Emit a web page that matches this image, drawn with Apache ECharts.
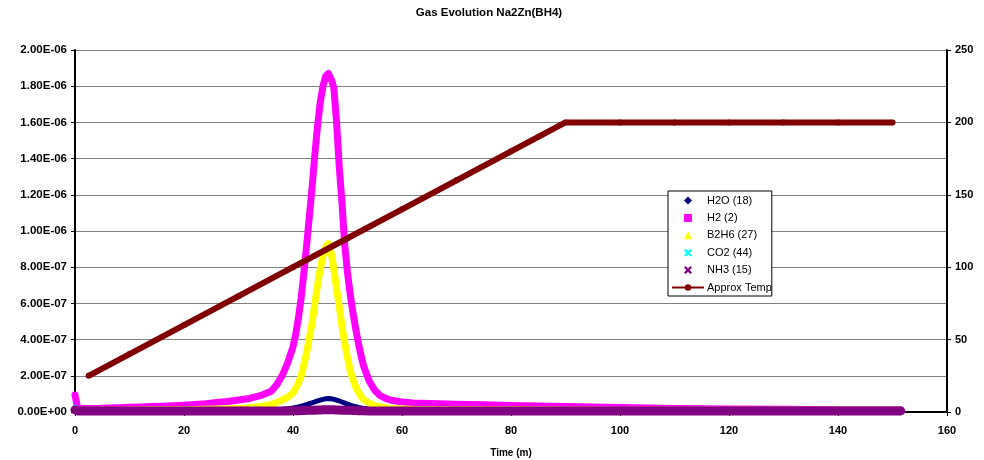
<!DOCTYPE html>
<html>
<head>
<meta charset="utf-8">
<script src="https://cdn.jsdelivr.net/npm/echarts@6/dist/echarts.min.js"></script>
<style>html,body{margin:0;padding:0;background:#fff}#c{width:984px;height:460px}</style>
</head>
<body>
<div id="c"></div>
<script>
// time (minutes) for gas signals
const gasTime = [0,0.5,2,4,6,8,10,12,14,16,18,20,22,24,26,28,30,32,34,36,37,38,39,40,40.5,41,41.5,42,42.5,43,43.5,44,44.5,45,45.5,46,46.5,47,47.5,48,48.5,49,49.5,50,50.5,51,51.5,52,52.5,53,54,55,56,57,58,60,62,65,70,75,80,90,100,110,120,130,140,151.5];
// gas signals in units of 1E-06
const h2o = [0.02,0.012,0.012,0.012,0.012,0.012,0.012,0.012,0.012,0.012,0.012,0.012,0.012,0.012,0.012,0.012,0.012,0.012,0.012,0.012,0.013,0.015,0.018,0.022,0.025,0.028,0.032,0.036,0.041,0.046,0.051,0.056,0.061,0.066,0.07,0.073,0.074,0.073,0.07,0.066,0.061,0.055,0.049,0.043,0.038,0.033,0.029,0.025,0.022,0.02,0.017,0.015,0.014,0.013,0.013,0.012,0.012,0.012,0.012,0.012,0.012,0.012,0.012,0.012,0.012,0.012,0.012,0.012];
const h2 = [0.094,0.02,0.02,0.02,0.022,0.024,0.026,0.028,0.03,0.032,0.035,0.038,0.042,0.046,0.052,0.058,0.066,0.075,0.09,0.115,0.15,0.2,0.27,0.36,0.43,0.52,0.63,0.77,0.92,1.08,1.24,1.42,1.58,1.71,1.80,1.855,1.87,1.84,1.79,1.60,1.35,1.15,0.92,0.77,0.65,0.55,0.46,0.38,0.31,0.25,0.17,0.12,0.09,0.075,0.065,0.055,0.05,0.047,0.043,0.04,0.036,0.03,0.025,0.02,0.017,0.015,0.013,0.012];
const b2h6 = [0.01,0.01,0.01,0.01,0.01,0.01,0.011,0.011,0.012,0.012,0.013,0.013,0.014,0.015,0.016,0.018,0.02,0.023,0.03,0.042,0.052,0.065,0.082,0.105,0.13,0.16,0.2,0.26,0.33,0.41,0.49,0.6,0.7,0.79,0.86,0.91,0.93,0.88,0.79,0.68,0.58,0.47,0.38,0.3,0.23,0.18,0.14,0.11,0.085,0.068,0.048,0.035,0.028,0.024,0.02,0.017,0.015,0.014,0.013,0.012,0.012,0.011,0.01,0.01,0.01,0.01,0.01,0.01];
const co2 = [0.03,0.008,0.004,0.004,0.004,0.004,0.004,0.004,0.004,0.004,0.004,0.004,0.004,0.004,0.004,0.004,0.004,0.004,0.003,0.003,0.003,0.003,0.002,0.002,0.001,0,0,0,0,0,0,0,0,0,0,0,0,0,0,0,0,0,0,0,0,0,0,0,0.001,0.001,0.002,0.002,0.003,0.003,0.003,0.003,0.003,0.003,0.003,0.003,0.003,0.003,0.003,0.003,0.003,0.003,0.003,0.003];
const nh3 = [0.012,0.006,0.006,0.006,0.006,0.006,0.006,0.006,0.006,0.006,0.006,0.006,0.006,0.006,0.006,0.006,0.006,0.006,0.006,0.006,0.006,0.006,0.006,0.007,0.007,0.007,0.008,0.008,0.009,0.009,0.01,0.01,0.011,0.011,0.012,0.012,0.012,0.012,0.012,0.011,0.011,0.01,0.01,0.009,0.009,0.008,0.008,0.007,0.007,0.007,0.006,0.006,0.006,0.006,0.006,0.006,0.006,0.006,0.006,0.006,0.006,0.006,0.006,0.006,0.006,0.006,0.006,0.006];
// approximate temperature
const tempTime = [2.5,10,20,30,40,50,60,70,80,90,100,110,120,130,140,150];
const tempVal = [25,40,60,80,100,120,140,160,180,200,200,200,200,200,200,200];
// axis ticks
const leftTicks = ['0.00E+00','2.00E-07','4.00E-07','6.00E-07','8.00E-07','1.00E-06','1.20E-06','1.40E-06','1.60E-06','1.80E-06','2.00E-06'];

const FONT = '"Liberation Sans", Arial, sans-serif';
const xMark = 'path://M0,2L2,0L5,3L8,0L10,2L7,5L10,8L8,10L5,7L2,10L0,8L3,5Z';
const diamondMark = 'path://M5,0L10,5L5,10L0,5Z';
const squareMark = 'path://M0,0L10,0L10,10L0,10Z';
const triMark = 'path://M5,0L10,10L0,10Z';

function pairs(t, v){ return t.map((x,i)=>[x, v[i]]); }
function gas(name, vals, color, width){
  return {name:name, type:'line', data:pairs(gasTime, vals), showSymbol:false, symbol:'circle',
    itemStyle:{color:color}, lineStyle:{color:color, width:width, cap:'round', join:'round'}, z:2};
}

const chart = echarts.init(document.getElementById('c'), null, {renderer:'canvas'});
chart.setOption({
  animation:false,
  backgroundColor:'#fff',
  title:{text:'Gas Evolution Na2Zn(BH4)', left:484, textAlign:'center', top:2,
    textStyle:{fontFamily:FONT, fontSize:11.5, fontWeight:'bold', color:'#000'}},
  grid:{left:75, right:37, top:50, bottom:48, outerBoundsMode:'none', containLabel:false},
  legend:{orient:'vertical', left:668, top:191, itemWidth:32, itemHeight:8, itemGap:6.4,
    symbolKeepAspect:true,
    padding:[4,0,3,3], borderColor:'#000', borderWidth:1, backgroundColor:'#fff',
    textStyle:{fontFamily:FONT, fontSize:11, color:'#000', padding:[0,0,0,-2]},
    data:[
      {name:'H2O (18)', icon:diamondMark},
      {name:'H2 (2)', icon:squareMark},
      {name:'B2H6 (27)', icon:triMark},
      {name:'CO2 (44)', icon:xMark},
      {name:'NH3 (15)', icon:xMark},
      {name:'Approx Temp', lineStyle:{width:2}}
    ]},
  xAxis:{type:'value', min:0, max:160, interval:20,
    name:'Time (m)', nameLocation:'middle', nameGap:36,
    nameTextStyle:{fontFamily:FONT, fontSize:10, fontWeight:'bold', color:'#000'},
    axisLine:{lineStyle:{color:'#000', width:2}},
    axisTick:{show:true, length:4, lineStyle:{color:'#000', width:1}},
    axisLabel:{fontFamily:FONT, fontSize:11, fontWeight:'bold', color:'#000', margin:13},
    splitLine:{show:false}},
  yAxis:[
    {type:'value', min:0, max:2, interval:0.2,
      axisLine:{show:true, lineStyle:{color:'#000', width:2}},
      axisTick:{show:true, length:4, lineStyle:{color:'#000', width:1}},
      axisLabel:{fontFamily:FONT, fontSize:11.5, fontWeight:'bold', color:'#000', margin:8,
        formatter:(v)=>leftTicks[Math.round(v/0.2)]},
      splitLine:{show:true, lineStyle:{color:'#808080', width:1}}},
    {type:'value', min:0, max:250, interval:50, position:'right',
      axisLine:{show:true, lineStyle:{color:'#000', width:2}},
      axisTick:{show:true, length:4, lineStyle:{color:'#000', width:1}},
      axisLabel:{fontFamily:FONT, fontSize:11, fontWeight:'bold', color:'#000', margin:8},
      splitLine:{show:false}}
  ],
  series:[
    gas('H2O (18)', h2o, '#000080', 5),
    gas('H2 (2)', h2, '#FF00FF', 7),
    gas('B2H6 (27)', b2h6, '#FFFF00', 7),
    gas('CO2 (44)', co2, '#00FFFF', 4),
    gas('NH3 (15)', nh3, '#800080', 9),
    {name:'Approx Temp', type:'line', yAxisIndex:1, data:pairs(tempTime, tempVal),
      symbol:'circle', symbolSize:6, showSymbol:true,
      itemStyle:{color:'#800000'}, lineStyle:{color:'#800000', width:6}, z:3}
  ]
});
</script>
</body>
</html>
